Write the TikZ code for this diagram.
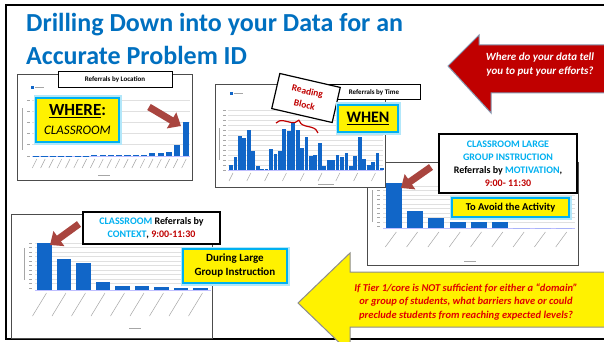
\documentclass[tikz,border=0pt]{standalone}
\usepackage{fontspec}
\setmainfont{Carlito}
\usetikzlibrary{positioning,arrows.meta,decorations.pathreplacing}
\definecolor{titleblue}{HTML}{0070C0}
\definecolor{callcyan}{HTML}{00B0F0}
\definecolor{readred}{HTML}{C00000}
\definecolor{alertred}{HTML}{E00000}
\definecolor{barblue}{HTML}{1166C8}
\definecolor{pointred}{HTML}{A9453F}
\definecolor{edgegray}{HTML}{8497B0}
\begin{document}
\begin{tikzpicture}[x=1pt,y=-1pt,
    chart/.style={draw=black!70,line width=0.8pt,fill=white},
    grid line/.style={draw=black!12,line width=0.4pt},
    tick mark/.style={draw=black!35,line width=0.5pt},
    bar/.style={fill=barblue},
    head/.style={draw,line width=1pt,fill=white,inner sep=0pt,font=\bfseries\fontsize{7}{8}\selectfont},
    callout/.style={draw,line width=1.2pt,fill=white,align=center,inner sep=0pt},
    hilite/.style={draw=callcyan,line width=1.5pt,fill=yellow,align=center,inner sep=0pt,
      preaction={draw=callcyan!30,line width=5pt}},
    pointer/.style={-{Triangle[length=11pt,width=18pt]},line width=7pt,draw=pointred}]
\useasboundingbox (0,0) rectangle (604,342);
\fill[white] (0,0) rectangle (604,342);
\begin{scope}
\clip (0,0) rectangle (604,342);
% slide frame
\draw[line width=2.5pt] (610,5) -- (6,5) -- (6,339) -- (610,339);
% title
\node[anchor=base west,inner sep=0pt,text=titleblue,font=\bfseries\fontsize{26}{30}\selectfont] (titleA) at (26,32) {Drilling Down into your Data for an};
\node[anchor=base west,inner sep=0pt,text=titleblue,font=\bfseries\fontsize{26}{30}\selectfont] (titleB) at (26,65) {Accurate Problem ID};
% big red arrow
\draw[edgegray,line width=1pt,fill=readred] (448,66) -- (479,35) -- (479,45) -- (610,45) -- (610,93) -- (491,93) -- (491,113) -- cycle;
\node[text=white,align=center,font=\bfseries\itshape\fontsize{11}{14}\selectfont] (effort) at (540,65) {Where do your data tell\\you to put your efforts?};
% chart 1: location
\draw[chart] (17,74) rectangle (192,180);
\foreach \y in {100,111,122,133,144} \draw[grid line] (32,\y) -- (190,\y);
\foreach \y in {100,111,122,133,144,156} \draw[tick mark] (27,\y) -- (30,\y);
\draw[draw=blue!25,line width=0.6pt] (32,156) -- (190,156);
\foreach \h [count=\i] in {0.5,0.5,0.5,0.5,0.5,0.5,0.5,1,1,1,1,1,1,1,3,3,4,11,34}
  \fill[bar] ({32+8.3*\i-7.2},156) rectangle ({32+8.3*\i-1.1},{156-\h});
\foreach \i in {1,...,19} \draw[tick mark] ({32+8.3*\i-3.5},159) -- ({32+8.3*\i-8},168);
\draw[tick mark] (22,108) -- (22,150);
\draw[tick mark] (98,175) -- (110,175);
\fill[barblue] (31,86) rectangle (34,89);
\draw[tick mark] (35,87.5) -- (44,87.5);
\node[head,minimum width=114pt,minimum height=16pt] (locTitle) at (115,80) {Referrals by Location};
\node[hilite,minimum width=83pt,minimum height=44pt,font=\fontsize{17}{19}\selectfont] (where) at (77.5,120)
  {{\bfseries\underline{WHERE}:}\\{\itshape\fontsize{13}{15}\selectfont CLASSROOM}};
\coordinate (whereTail) at (149,107);
\coordinate (whereTip) at (181,126);
\draw[pointer] (whereTail) -- (whereTip);
% chart 3: motivation
\draw[chart] (367,162) rectangle (578,265);
\foreach \y in {186,190.5,...,224} \draw[grid line] (383,\y) -- (575,\y);
\foreach \y in {186,190.5,...,228} \draw[tick mark] (377,\y) -- (380,\y);
\draw[draw=blue!25,line width=0.6pt] (383,228) -- (575,228);
\foreach \h [count=\i] in {45,17,10,6,6,6,0,0,0}
  \fill[bar] ({383+21.3*\i-18.7},228) rectangle ({383+21.3*\i-2.6},{228-\h});
\foreach \i in {1,...,9} \draw[tick mark] ({383+21.3*\i-8},232) -- ({383+21.3*\i-19},247);
\draw[tick mark] (372,190) -- (372,222);
\draw[tick mark] (464,261) -- (476,261);
% chart 2: time of day
\draw[chart] (215,84) rectangle (385,187);
\foreach \y in {110,115,...,165} \draw[grid line] (228,\y) -- (383,\y);
\foreach \y in {110,115,...,170} \draw[tick mark] (223,\y) -- (226,\y);
\draw[draw=blue!25,line width=0.6pt] (228,170) -- (383,170);
\foreach \h [count=\i] in {5,13,34,32,40,19,4,1,1,21,16,19,41,39,47,40,22,33,14,15,27,4,10,10,15,13,17,4,14,33,11,5,8,17,2}
  \fill[bar] ({231+4.44*(\i-1)-1.9},170) rectangle ({231+4.44*(\i-1)+1.9},{170-\h});
\foreach \i in {0,...,8} \draw[tick mark] ({233+17.8*\i},173) -- ({229+17.8*\i},181);
\draw[tick mark] (219,128) -- (219,160);
\draw[tick mark] (318,184) -- (334,184);
\fill[barblue] (230,92) rectangle (233,95);
\draw[tick mark] (234,93.5) -- (243,93.5);
\node[head,minimum width=92pt,minimum height=15pt] (timeTitle) at (374,92.5) {Referrals by Time};
\node[draw,line width=1.2pt,fill=white,rotate=-13,minimum width=62pt,minimum height=36pt,inner sep=0pt,
  align=center,text=readred,font=\bfseries\fontsize{9.5}{14}\selectfont] (reading) at (306,98) {Reading\\Block};
\coordinate (braceL) at (276,123);
\coordinate (braceR) at (318,133);
\draw[readred,line width=1.2pt,decorate,decoration={brace,amplitude=8pt}] (braceL) -- (braceR);
\node[hilite,minimum width=60pt,minimum height=27pt,font=\bfseries\fontsize{16}{18}\selectfont] (when) at (368,118.5) {\underline{WHEN}};
% chart 3 labels
\node[callout,minimum width=138pt,minimum height=59pt,font=\bfseries\fontsize{10}{13}\selectfont] (motive) at (508,163.5)
  {\textcolor{callcyan}{CLASSROOM LARGE}\\\textcolor{callcyan}{GROUP INSTRUCTION}\\Referrals by \textcolor{callcyan}{MOTIVATION},\\\textcolor{readred}{9:00- 11:30}};
\node[hilite,minimum width=117pt,minimum height=19pt,font=\bfseries\fontsize{10.5}{12}\selectfont] (avoid) at (510.5,207.5) {To Avoid the Activity};
\coordinate (motiveTail) at (431,167);
\coordinate (motiveTip) at (401,188);
\draw[pointer] (motiveTail) -- (motiveTip);
% chart 4: context
\draw[chart] (11,214) rectangle (212,338);
\foreach \y in {243,247.5,...,286} \draw[grid line] (35,\y) -- (211,\y);
\foreach \y in {243,247.5,...,290} \draw[tick mark] (29,\y) -- (32,\y);
\draw[draw=blue!25,line width=0.6pt] (35,290) -- (211,290);
\foreach \h [count=\i] in {47,31,27,8,4,4,3,2,2}
  \fill[bar] ({35+19.5*\i-17.5},290) rectangle ({35+19.5*\i-3},{290-\h});
\foreach \i in {1,...,9} \draw[tick mark] ({35+19.5*\i-8},293) -- ({35+19.5*\i-22},316);
\draw[tick mark] (24,248) -- (24,280);
\draw[tick mark] (129,328) -- (141,328);
\node[callout,minimum width=137pt,minimum height=32pt,font=\bfseries\fontsize{10}{12.5}\selectfont] (context) at (151.5,228)
  {\textcolor{callcyan}{CLASSROOM} Referrals by\\\textcolor{callcyan}{CONTEXT}, \textcolor{readred}{9:00-11:30}};
\node[hilite,minimum width=104pt,minimum height=34pt,font=\bfseries\fontsize{11}{14}\selectfont] (during) at (235,266) {During Large\\Group Instruction};
\coordinate (contextTail) at (79,224);
\coordinate (contextTip) at (50,245);
\draw[pointer] (contextTail) -- (contextTip);
% big yellow arrow
\draw[black!45,line width=1pt,fill=yellow] (298,303) -- (350,253) -- (350,272) -- (610,272) -- (610,327) -- (350,327) -- (350,353) -- cycle;
\node[text=alertred,align=center,font=\bfseries\itshape\fontsize{10.5}{13.5}\selectfont] (barrier) at (466,302)
  {If Tier 1/core is NOT sufficient for either a “domain”\\or group of students, what barriers have or could\\preclude students from reaching expected levels?};
\end{scope}
\end{tikzpicture}
\end{document}
